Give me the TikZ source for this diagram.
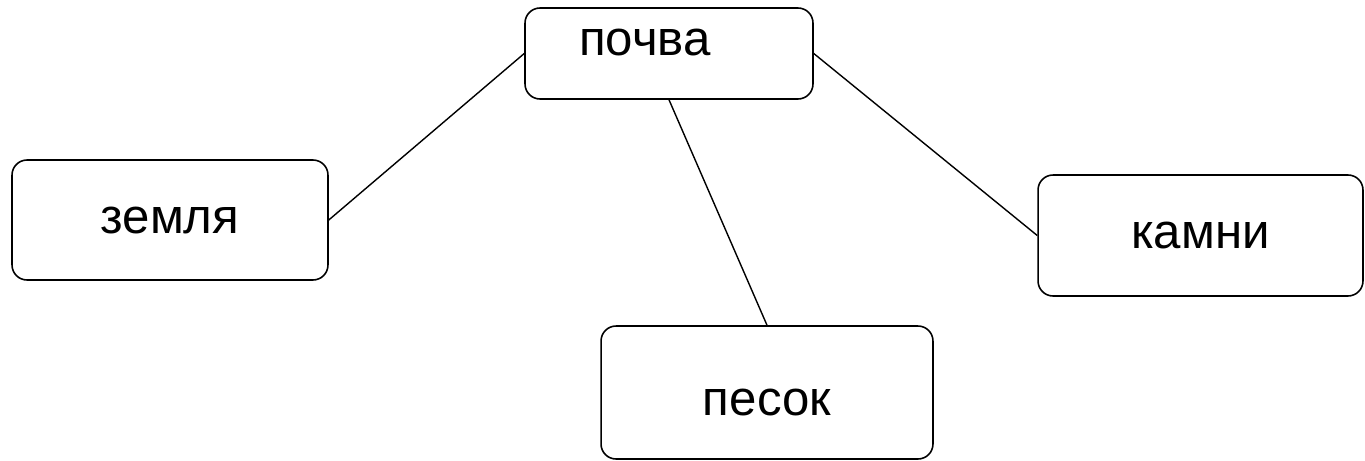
\documentclass[tikz,border=0pt]{standalone}
\usepackage{fontspec}
\setmainfont{Liberation Sans}
\newcommand{\wordsize}{\fontsize{28}{34}\selectfont}
\tikzset{
    box/.style={draw, rounded corners=0.3cm, line width=0.9pt, inner sep=0pt, font=\wordsize},
    link/.style={line width=0.8pt}
}
\begin{document}
\begin{tikzpicture}[x=0.02cm, y=-0.02cm]
    \useasboundingbox (0,0) rectangle (1365,460);
    % boxes
    \node[box, minimum width=5.76cm, minimum height=1.82cm,
          label={[font=\wordsize, xshift=-0.48cm, yshift=0.22cm]center:почва}] (pochva) at (669,53.5) {};
    \node[box, minimum width=6.32cm, minimum height=2.4cm] (zemlya) at (170,220) {земля};
    \node[box, minimum width=6.5cm, minimum height=2.42cm] (kamni) at (1200.5,235.5) {камни};
    \node[box, minimum width=6.64cm, minimum height=2.66cm,
          label={[font=\wordsize, yshift=-0.2cm]center:песок}] (pesok) at (767,392.5) {};
    % links
    \draw[link] (pochva.west) -- (zemlya.east);
    \draw[link] (pochva.east) -- (kamni.west);
    \draw[link] (pochva.south) -- (pesok.north);
\end{tikzpicture}
\end{document}
